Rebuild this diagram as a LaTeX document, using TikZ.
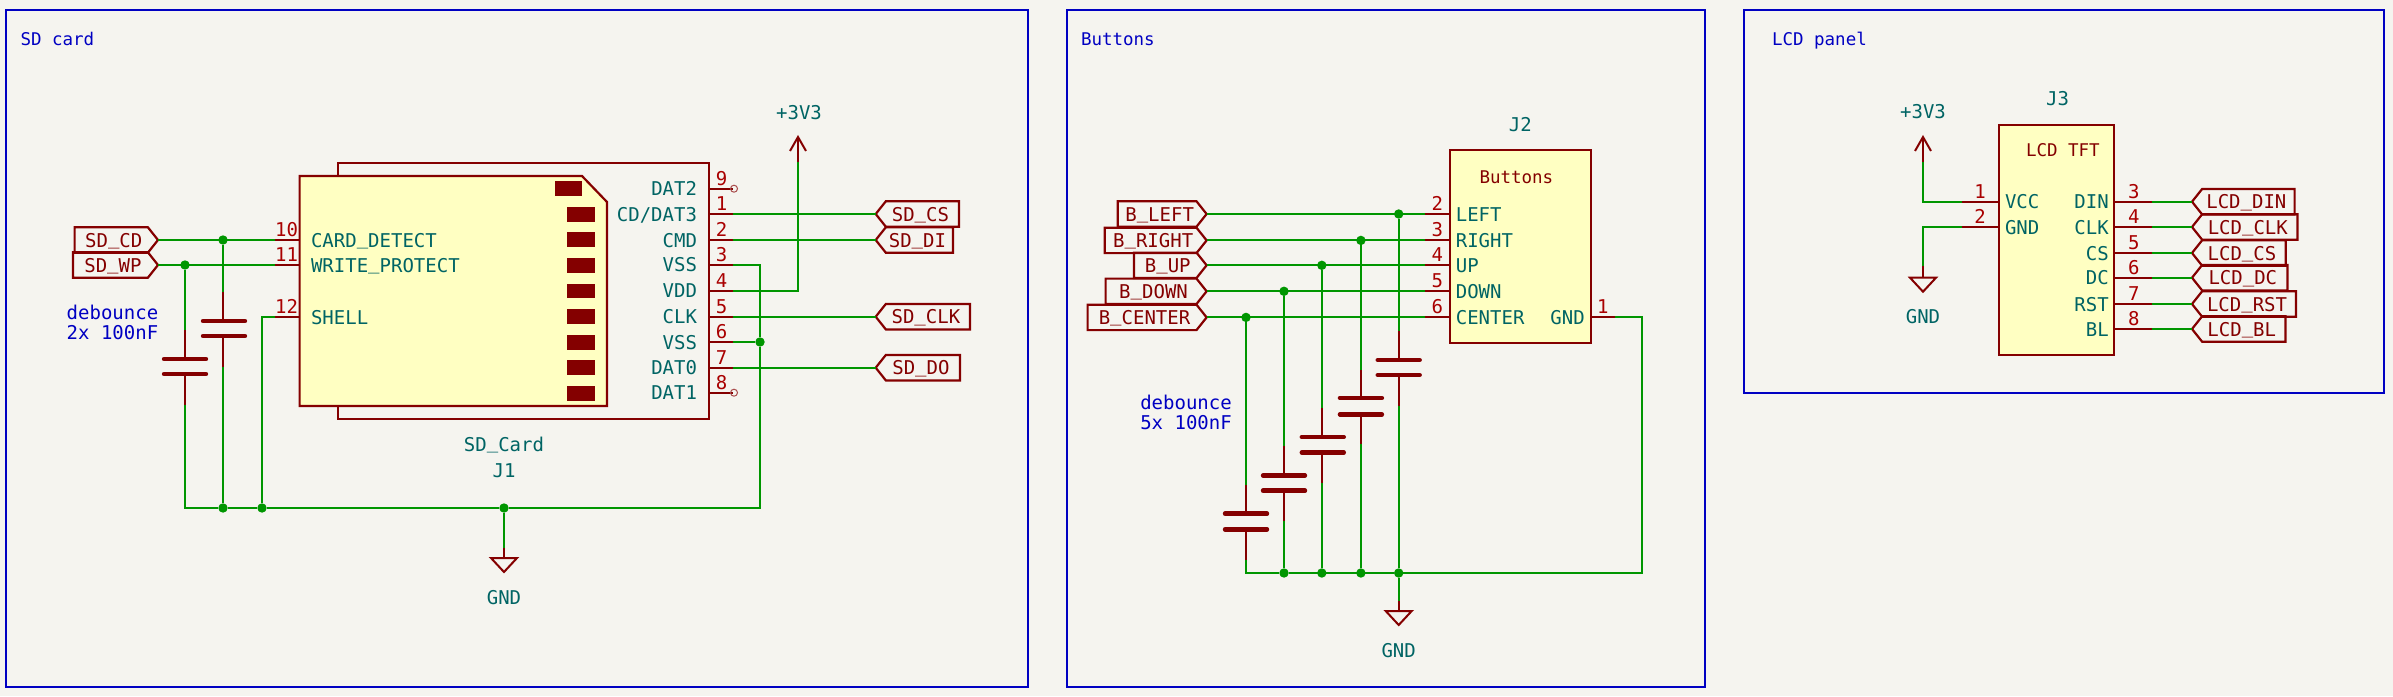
\documentclass[tikz,border=0pt]{standalone}
\usepackage{fontspec}
\setmonofont{DejaVu Sans Mono}
\usetikzlibrary{positioning,shapes.symbols}
\definecolor{sheet}{HTML}{F5F4EF}
\definecolor{notes}{HTML}{0000C2}
\definecolor{wirecol}{HTML}{009600}
\definecolor{symcol}{HTML}{840000}
\definecolor{numcol}{HTML}{A90000}
\definecolor{namecol}{HTML}{006464}
\definecolor{bodycol}{HTML}{FFFFC2}
\newcommand{\us}{\raisebox{2.6pt}{\_}}

\begin{document}
\begin{tikzpicture}[x=1pt,y=-1pt]
\tikzstyle{every node}+=[inner sep=0pt,outer sep=0pt]
\tikzstyle{schtext}=[font=\ttfamily\fontsize{19}{19}\selectfont,text height=14pt,text depth=0pt]
\tikzstyle{smalltxt}=[font=\ttfamily\fontsize{17.5}{19}\selectfont,text height=14pt,text depth=0pt]
\tikzstyle{notetxt}=[schtext,text=notes]
\tikzstyle{titletxt}=[smalltxt,text=notes]
\tikzstyle{pinname}=[schtext,text=namecol]
\tikzstyle{valuetxt}=[smalltxt,text=symcol]
\tikzstyle{pinnum}=[schtext,text=numcol]
\tikzstyle{wire}=[draw=wirecol,line width=2pt]
\tikzstyle{symline}=[draw=symcol,line width=2pt]
\tikzstyle{plate}=[draw=symcol,line width=4.4pt,line cap=round]
\tikzstyle{sheetframe}=[draw=notes,line width=2.4pt]
\tikzstyle{symbox}=[draw=symcol,line width=2.2pt]
\tikzstyle{ic}=[symbox,fill=bodycol,rectangle]
\tikzstyle{junction}=[circle,fill=wirecol,minimum size=9.4pt]
\tikzstyle{nopin}=[circle,draw=symcol!70,line width=1pt,minimum size=7pt]
\tikzstyle{hlabel}=[schtext,text=symcol,symbox,shape=signal,signal pointer angle=103,minimum height=25.4pt]
\tikzstyle{labelout}=[hlabel,signal to=east,anchor=east,execute at begin node={\hspace*{5pt}}]
\tikzstyle{labelin}=[hlabel,signal to=west,anchor=west,execute at end node={\hspace*{4pt}}]
\useasboundingbox (0,0) rectangle (2393,696);
\fill [sheet] (0,0) rectangle (2393,696);
% frames
\draw [sheetframe] (6,10) rectangle (1028,687);
\draw [sheetframe] (1067,10) rectangle (1705,687);
\draw [sheetframe] (1744,10) rectangle (2384,393);
\node [titletxt,anchor=west] (title_sd) at (20.5,38) {SD card};
\node [titletxt,anchor=west] (title_btn) at (1081,38) {Buttons};
\node [titletxt,anchor=west] (title_lcd) at (1772,38) {LCD panel};
% SD card
\node [symbox,rectangle,minimum width=371pt,minimum height=256pt] (j1) at (523.5,291) {};
\filldraw [symbox,fill=bodycol] (299.6,176) -- (582,176) -- (607,202) -- (607,406) -- (299.6,406) -- cycle;
\fill [symcol] (555,181) rectangle (582,196);
\fill [symcol] (567,207) rectangle (595,222);
\fill [symcol] (567,232) rectangle (595,247);
\fill [symcol] (567,258) rectangle (595,273);
\fill [symcol] (567,284) rectangle (595,298);
\fill [symcol] (567,309) rectangle (595,324);
\fill [symcol] (567,335) rectangle (595,350);
\fill [symcol] (567,360) rectangle (595,375);
\fill [symcol] (567,386) rectangle (595,401);
\node [pinname] (j1_value) at (504,444) {SD\us Card};
\node [pinname] (j1_ref) at (504,470) {J1};
\coordinate (j1_10) at (275,240);
\coordinate (j1_11) at (275,265);
\coordinate (j1_12) at (275,317);
\draw [symline] (299.6,240) -- (j1_10);
\draw [symline] (299.6,265) -- (j1_11);
\draw [symline] (299.6,317) -- (j1_12);
\node [pinnum] (j1_num10) at (286.5,229.5) {10};
\node [pinnum] (j1_num11) at (286.5,254.5) {11};
\node [pinnum] (j1_num12) at (286.5,306.5) {12};
\node [pinname,anchor=west] (j1_p10) at (311,240) {CARD\us DETECT};
\node [pinname,anchor=west] (j1_p11) at (311,265) {WRITE\us PROTECT};
\node [pinname,anchor=west] (j1_p12) at (311,317) {SHELL};
\coordinate (j1_9) at (733,188.7);
\coordinate (j1_1) at (733,214);
\coordinate (j1_2) at (733,240);
\coordinate (j1_3) at (733,264.7);
\coordinate (j1_4) at (733,290.7);
\coordinate (j1_5) at (733,316.7);
\coordinate (j1_6) at (733,342);
\coordinate (j1_7) at (733,367.7);
\coordinate (j1_8) at (733,392.7);
\draw [symline] (j1.east |- j1_9) -- (j1_9);
\draw [symline] (j1.east |- j1_1) -- (j1_1);
\draw [symline] (j1.east |- j1_2) -- (j1_2);
\draw [symline] (j1.east |- j1_3) -- (j1_3);
\draw [symline] (j1.east |- j1_4) -- (j1_4);
\draw [symline] (j1.east |- j1_5) -- (j1_5);
\draw [symline] (j1.east |- j1_6) -- (j1_6);
\draw [symline] (j1.east |- j1_7) -- (j1_7);
\draw [symline] (j1.east |- j1_8) -- (j1_8);
\node [nopin] (j1_nc9) at (734,188.7) {};
\node [nopin] (j1_nc8) at (734,392.7) {};
\node [pinnum] (j1_num9) at (721.7,178) {9};
\node [pinnum] (j1_num1) at (721.7,203.5) {1};
\node [pinnum] (j1_num2) at (721.7,229) {2};
\node [pinnum] (j1_num3) at (721.7,254) {3};
\node [pinnum] (j1_num4) at (721.7,280) {4};
\node [pinnum] (j1_num5) at (721.7,306) {5};
\node [pinnum] (j1_num6) at (721.7,331.5) {6};
\node [pinnum] (j1_num7) at (721.7,357) {7};
\node [pinnum] (j1_num8) at (721.7,382) {8};
\node [pinname,anchor=east] (j1_p9) at (697,188.7) {DAT2};
\node [pinname,anchor=east] (j1_p1) at (697,214) {CD/DAT3};
\node [pinname,anchor=east] (j1_p2) at (697,240) {CMD};
\node [pinname,anchor=east] (j1_p3) at (697,264.7) {VSS};
\node [pinname,anchor=east] (j1_p4) at (697,290.7) {VDD};
\node [pinname,anchor=east] (j1_p5) at (697,316.7) {CLK};
\node [pinname,anchor=east] (j1_p6) at (697,342) {VSS};
\node [pinname,anchor=east] (j1_p7) at (697,367.7) {DAT0};
\node [pinname,anchor=east] (j1_p8) at (697,392.7) {DAT1};
\node [labelout,minimum width=83.4pt] (sd_cd) at (158,240) {SD\us CD};
\node [labelout,minimum width=85pt] (sd_wp) at (158,265) {SD\us WP};
\node [labelin,minimum width=83.3pt] (sd_cs) at (875.7,214) {SD\us CS};
\node [labelin,minimum width=77.3pt] (sd_di) at (875.7,240) {SD\us DI};
\node [labelin,minimum width=94.3pt] (sd_clk) at (875.7,316.7) {SD\us CLK};
\node [labelin,minimum width=84.3pt] (sd_do) at (875.7,367.7) {SD\us DO};
\node [notetxt] (note_sd1) at (112.5,312) {debounce};
\node [notetxt] (note_sd2) at (112.5,332) {2x 100nF};
% caps on the card detect lines
\coordinate (c1_a) at (185,330);
\coordinate (c1_b) at (185,405);
\draw [symline] (c1_a) -- (185,359) (185,374) -- (c1_b);
\draw [plate] (164,359) -- (206,359);
\draw [plate] (164,374) -- (206,374);
\coordinate (c2_a) at (223,292);
\coordinate (c2_b) at (223,367);
\draw [symline] (c2_a) -- (223,321) (223,336) -- (c2_b);
\draw [plate] (203,321) -- (245,321);
\draw [plate] (203,336) -- (245,336);
\node [junction] (n_cd) at (223,240) {};
\node [junction] (n_wp) at (185,265) {};
\node [junction] (n_c2) at (223,508) {};
\node [junction] (n_sh) at (262,508) {};
\node [junction] (n_gnd1) at (504,508) {};
\node [junction] (n_vss) at (760,342) {};
\coordinate (vdd_a) at (798,161.7);
\coordinate (vdd_t) at (798,137);
\draw [symline] (vdd_a) -- (vdd_t);
\draw [symline] (790,151) -- (vdd_t) -- (806,151);
\node [pinname] (vdd_txt) at (799,112) {+3V3};
\coordinate (gnd1_a) at (504,547.7);
\coordinate (gnd1_b) at (504,558);
\draw [symline] (gnd1_a) -- (gnd1_b);
\draw [symline] (491,558) -- (517,558) -- (504,572) -- cycle;
\node [pinname] (gnd1_txt) at (504,597) {GND};
\draw [wire] (sd_cd.east) -- (j1_10);
\draw [wire] (sd_wp.east) -- (j1_11);
\draw [wire] (j1_12) -- (262,317) -- (n_sh);
\draw [wire] (n_cd) -- (c2_a);
\draw [wire] (n_wp) -- (c1_a);
\draw [wire] (c2_b) -- (n_c2);
\draw [wire] (c1_b) |- (n_c2);
\draw [wire] (n_c2) -- (n_sh) -- (n_gnd1) -| (n_vss);
\draw [wire] (n_gnd1) -- (gnd1_a);
\draw [wire] (j1_1) -- (sd_cs.west);
\draw [wire] (j1_2) -- (sd_di.west);
\draw [wire] (j1_5) -- (sd_clk.west);
\draw [wire] (j1_7) -- (sd_do.west);
\draw [wire] (j1_4) -| (vdd_a);
\draw [wire] (j1_3) -| (n_vss);
\draw [wire] (j1_6) -- (n_vss);
% buttons
\node [ic,minimum width=141.4pt,minimum height=192.8pt] (j2) at (1520.3,246.2) {};
\node [pinname] (j2_ref) at (1520.4,124.5) {J2};
\node [valuetxt,anchor=west] (j2_value) at (1479.5,176) {Buttons};
\coordinate (j2_2) at (1425,214);
\coordinate (j2_3) at (1425,240.4);
\coordinate (j2_4) at (1425,265.3);
\coordinate (j2_5) at (1425,291.3);
\coordinate (j2_6) at (1425,317.4);
\coordinate (j2_1) at (1615,317.4);
\draw [symline] (j2.west |- j2_2) -- (j2_2);
\draw [symline] (j2.west |- j2_3) -- (j2_3);
\draw [symline] (j2.west |- j2_4) -- (j2_4);
\draw [symline] (j2.west |- j2_5) -- (j2_5);
\draw [symline] (j2.west |- j2_6) -- (j2_6);
\draw [symline] (j2.east |- j2_1) -- (j2_1);
\node [pinnum] (j2_num2) at (1437.4,203.5) {2};
\node [pinnum] (j2_num3) at (1437.4,229.5) {3};
\node [pinnum] (j2_num4) at (1437.4,254.5) {4};
\node [pinnum] (j2_num5) at (1437.4,280.5) {5};
\node [pinnum] (j2_num6) at (1437.4,306.5) {6};
\node [pinnum] (j2_num1) at (1602.7,306.5) {1};
\node [pinname,anchor=west] (j2_p2) at (1455.8,214) {LEFT};
\node [pinname,anchor=west] (j2_p3) at (1455.8,240.4) {RIGHT};
\node [pinname,anchor=west] (j2_p4) at (1455.8,265.3) {UP};
\node [pinname,anchor=west] (j2_p5) at (1455.8,291.3) {DOWN};
\node [pinname,anchor=west] (j2_p6) at (1455.8,317.4) {CENTER};
\node [pinname,anchor=east] (j2_p1) at (1584.7,317.4) {GND};
\node [labelout,minimum width=88.8pt] (b_left) at (1206.6,214) {B\us LEFT};
\node [labelout,minimum width=101.8pt] (b_right) at (1206.6,240.4) {B\us RIGHT};
\node [labelout,minimum width=72.6pt] (b_up) at (1206.6,265.3) {B\us UP};
\node [labelout,minimum width=101pt] (b_down) at (1206.6,291.3) {B\us DOWN};
\node [labelout,minimum width=119pt] (b_center) at (1206.6,317.4) {B\us CENTER};
\node [notetxt] (note_btn1) at (1186,402.6) {debounce};
\node [notetxt] (note_btn2) at (1186,422) {5x 100nF};
% five caps
\coordinate (c3_a) at (1246,485);
\coordinate (c3_b) at (1246,559.6);
\draw [symline] (c3_a) -- (1246,513.6) (1246,529.4) -- (c3_b);
\draw [plate] (1225,513.6) -- (1267,513.6);
\draw [plate] (1225,529.4) -- (1267,529.4);
\coordinate (c4_a) at (1284,446);
\coordinate (c4_b) at (1284,520.8);
\draw [symline] (c4_a) -- (1284,475.5) (1284,490.6) -- (c4_b);
\draw [plate] (1263,475.5) -- (1305,475.5);
\draw [plate] (1263,490.6) -- (1305,490.6);
\coordinate (c5_a) at (1321.8,407.5);
\coordinate (c5_b) at (1321.8,483);
\draw [symline] (c5_a) -- (1321.8,437) (1321.8,452.5) -- (c5_b);
\draw [plate] (1301.8,437) -- (1343.8,437);
\draw [plate] (1301.8,452.5) -- (1343.8,452.5);
\coordinate (c6_a) at (1360.9,369.8);
\coordinate (c6_b) at (1360.9,444);
\draw [symline] (c6_a) -- (1360.9,398) (1360.9,414.3) -- (c6_b);
\draw [plate] (1339.9,398) -- (1381.9,398);
\draw [plate] (1339.9,414.3) -- (1381.9,414.3);
\coordinate (c7_a) at (1398.7,331);
\coordinate (c7_b) at (1398.7,405.7);
\draw [symline] (c7_a) -- (1398.7,360) (1398.7,375) -- (c7_b);
\draw [plate] (1377.7,360) -- (1419.7,360);
\draw [plate] (1377.7,375) -- (1419.7,375);
\node [junction] (n_left) at (1398.7,214) {};
\node [junction] (n_right) at (1360.9,240.4) {};
\node [junction] (n_up) at (1321.8,265.3) {};
\node [junction] (n_down) at (1284,291.3) {};
\node [junction] (n_center) at (1246,317.4) {};
\node [junction] (n_b4) at (1284,573) {};
\node [junction] (n_b5) at (1321.8,573) {};
\node [junction] (n_b6) at (1360.9,573) {};
\node [junction] (n_gnd2) at (1398.7,573) {};
\coordinate (gnd2_a) at (1398.7,600.8);
\coordinate (gnd2_b) at (1398.7,611);
\draw [symline] (gnd2_a) -- (gnd2_b);
\draw [symline] (1385.7,611) -- (1411.7,611) -- (1398.7,625) -- cycle;
\node [pinname] (gnd2_txt) at (1398.7,650) {GND};
\draw [wire] (b_left.east) -- (j2_2);
\draw [wire] (b_right.east) -- (j2_3);
\draw [wire] (b_up.east) -- (j2_4);
\draw [wire] (b_down.east) -- (j2_5);
\draw [wire] (b_center.east) -- (j2_6);
\draw [wire] (n_center) -- (c3_a);
\draw [wire] (n_down) -- (c4_a);
\draw [wire] (n_up) -- (c5_a);
\draw [wire] (n_right) -- (c6_a);
\draw [wire] (n_left) -- (c7_a);
\draw [wire] (c3_b) |- (n_b4);
\draw [wire] (c4_b) -- (n_b4);
\draw [wire] (c5_b) -- (n_b5);
\draw [wire] (c6_b) -- (n_b6);
\draw [wire] (c7_b) -- (n_gnd2);
\draw [wire] (n_gnd2) -- (gnd2_a);
\draw [wire] (n_b4) -- (n_gnd2);
\draw [wire] (j2_1) -- (1642,317.4) |- (n_gnd2);
% LCD panel
\node [ic,minimum width=115pt,minimum height=230pt] (j3) at (2056.5,240) {};
\node [pinname] (j3_ref) at (2057.5,98.7) {J3};
\node [valuetxt,anchor=west] (j3_value) at (2026,149.7) {LCD TFT};
\coordinate (j3_1) at (1962,201.7);
\coordinate (j3_2) at (1962,227);
\coordinate (j3_3) at (2152,201.7);
\coordinate (j3_4) at (2152,227);
\coordinate (j3_5) at (2152,253);
\coordinate (j3_6) at (2152,277.7);
\coordinate (j3_7) at (2152,304);
\coordinate (j3_8) at (2152,329);
\draw [symline] (j3.west |- j3_1) -- (j3_1);
\draw [symline] (j3.west |- j3_2) -- (j3_2);
\draw [symline] (j3.east |- j3_3) -- (j3_3);
\draw [symline] (j3.east |- j3_4) -- (j3_4);
\draw [symline] (j3.east |- j3_5) -- (j3_5);
\draw [symline] (j3.east |- j3_6) -- (j3_6);
\draw [symline] (j3.east |- j3_7) -- (j3_7);
\draw [symline] (j3.east |- j3_8) -- (j3_8);
\node [pinnum] (j3_num1) at (1980,191) {1};
\node [pinnum] (j3_num2) at (1980,216.5) {2};
\node [pinnum] (j3_num3) at (2133.7,191) {3};
\node [pinnum] (j3_num4) at (2133.7,216.5) {4};
\node [pinnum] (j3_num5) at (2133.7,242.5) {5};
\node [pinnum] (j3_num6) at (2133.7,267) {6};
\node [pinnum] (j3_num7) at (2133.7,293.5) {7};
\node [pinnum] (j3_num8) at (2133.7,318.5) {8};
\node [pinname,anchor=west] (j3_p1) at (2005,201.7) {VCC};
\node [pinname,anchor=west] (j3_p2) at (2005,227) {GND};
\node [pinname,anchor=east] (j3_p3) at (2108.7,201.7) {DIN};
\node [pinname,anchor=east] (j3_p4) at (2108.7,227) {CLK};
\node [pinname,anchor=east] (j3_p5) at (2108.7,253) {CS};
\node [pinname,anchor=east] (j3_p6) at (2108.7,277.7) {DC};
\node [pinname,anchor=east] (j3_p7) at (2108.7,304) {RST};
\node [pinname,anchor=east] (j3_p8) at (2108.7,329) {BL};
\node [labelin,minimum width=102.6pt] (lcd_din) at (2192,201.7) {LCD\us DIN};
\node [labelin,minimum width=105.5pt] (lcd_clk) at (2192,227) {LCD\us CLK};
\node [labelin,minimum width=93.8pt] (lcd_cs) at (2192,253) {LCD\us CS};
\node [labelin,minimum width=95.5pt] (lcd_dc) at (2192,277.7) {LCD\us DC};
\node [labelin,minimum width=104pt] (lcd_rst) at (2192,304) {LCD\us RST};
\node [labelin,minimum width=93.4pt] (lcd_bl) at (2192,329) {LCD\us BL};
\coordinate (vcc_a) at (1923,161.7);
\coordinate (vcc_t) at (1923,137);
\draw [symline] (vcc_a) -- (vcc_t);
\draw [symline] (1915,151) -- (vcc_t) -- (1931,151);
\node [pinname] (vcc_txt) at (1923,111.7) {+3V3};
\coordinate (gnd3_a) at (1923,265.7);
\coordinate (gnd3_b) at (1923,277.7);
\draw [symline] (gnd3_a) -- (gnd3_b);
\draw [symline] (1910,277.7) -- (1936,277.7) -- (1923,291.7) -- cycle;
\node [pinname] (gnd3_txt) at (1923,316) {GND};
\draw [wire] (j3_1) -| (vcc_a);
\draw [wire] (j3_2) -| (gnd3_a);
\draw [wire] (j3_3) -- (lcd_din.west);
\draw [wire] (j3_4) -- (lcd_clk.west);
\draw [wire] (j3_5) -- (lcd_cs.west);
\draw [wire] (j3_6) -- (lcd_dc.west);
\draw [wire] (j3_7) -- (lcd_rst.west);
\draw [wire] (j3_8) -- (lcd_bl.west);
\end{tikzpicture}
\end{document}
